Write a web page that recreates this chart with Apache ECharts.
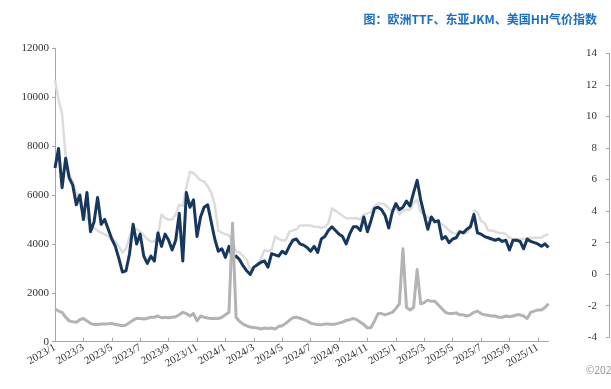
<!DOCTYPE html>
<html>
<head>
<meta charset="utf-8">
<script src="https://cdn.jsdelivr.net/npm/echarts@6/dist/echarts.min.js"></script>
<style>html,body{margin:0;padding:0;background:#fff}#c{width:611px;height:389px}</style>
</head>
<body>
<div id="c"></div>
<script>
const tickLabels = ['2023/1','2023/3','2023/5','2023/7','2023/9','2023/11','2024/1','2024/3','2024/5','2024/7','2024/9','2024/11','2025/1','2025/3','2025/5','2025/7','2025/9','2025/11'];
const seriesNames = ['欧洲TTF', '东亚JKM', '美国HH'];
// weekly samples (4 per month) starting 2023/1
const ttf = [7100,7900,6300,7500,6700,6400,5600,6000,5000,6100,
4500,4900,5900,4800,5000,4600,4200,3900,3400,2850,
2900,3600,4800,4000,4400,3500,3200,3500,3300,4450,
3900,4400,4150,3750,4150,5250,3300,6100,5500,5800,
4300,5100,5500,5600,4900,4200,3700,3800,3450,3900,
3400,3500,3350,3100,2900,2750,3050,3150,3250,3300,
3050,3600,3550,3500,3700,3600,3900,4150,4200,4000,
3950,3850,3700,3900,3650,4200,4300,4550,4700,4550,
4400,4300,4000,4400,4700,4700,4550,5100,4500,4950,
5450,5500,5400,5150,4650,5300,5650,5400,5500,5750,
5550,6100,6600,5800,5200,4600,5100,4900,4950,4200,
4300,4050,4200,4250,4500,4450,4600,4700,5200,4450,
4400,4300,4250,4200,4150,4200,4100,4150,3750,4150,
4150,4100,3800,4200,4100,4050,4000,3900,4000,3850];
const jkm = [10700,9900,9300,7600,6800,6550,6100,5600,5300,5050,
4800,4650,4550,4450,4400,4300,4200,4100,3900,3650,
3800,4300,4700,4600,4500,4350,4200,4100,4100,4300,
5200,5050,5000,5000,5200,5600,5550,6300,6950,6900,
6750,6600,6550,6350,6100,5600,4550,4450,4400,4350,
4100,3700,3650,3500,3350,2950,3050,3150,3400,3750,
3700,3750,4300,4200,4150,4150,4500,4550,4600,4750,
4750,4750,4750,4700,4700,4650,4700,4850,5450,5350,
5250,5150,5050,5050,5050,5050,5000,5200,5250,5300,
5550,5650,5650,5600,5450,5350,5500,5200,5350,5400,
5400,5700,5800,5300,5200,5100,5000,4950,4900,4800,
4700,4550,4450,4400,4500,4450,4450,4650,5350,5300,
4950,4850,4550,4550,4500,4450,4450,4400,4250,4200,
4200,4200,4200,4200,4250,4250,4250,4250,4350,4400];
const hh = [1350,1250,1200,1000,850,820,800,900,950,850,
750,700,700,720,720,730,750,700,680,650,
680,780,880,960,950,930,960,1000,1000,1050,
980,1000,980,1000,1020,1100,1200,1150,1050,1150,
850,1050,1000,970,950,960,950,1000,1100,1200,
4850,1000,830,720,650,600,580,560,520,560,
540,560,520,620,650,750,870,980,1000,960,
900,850,760,720,700,690,720,720,700,720,
760,800,870,900,950,900,800,700,560,580,
850,1150,1150,1100,1150,1200,1350,1550,3800,1400,
1300,1400,2950,1550,1600,1700,1650,1650,1500,1350,
1200,1150,1150,1180,1100,1100,1050,1100,1200,1250,
1150,1100,1080,1050,1050,1000,1000,1050,1020,1050,
1100,1100,1050,950,1200,1250,1300,1300,1400,1550];

const categories = [];
for (let i = 0; i < ttf.length; i++) {
  const m = Math.floor(i / 4);
  const label = (i % 8 === 0) ? tickLabels[i / 8] : (2023 + Math.floor(m / 12)) + '/' + (m % 12 + 1);
  categories.push(label + ' w' + (i % 4 + 1));
}

const serif = "'Liberation Serif', 'Times New Roman', serif";
const axisGray = '#a6a6a6';
const chart = echarts.init(document.getElementById('c'));
chart.setOption({
  animation: false,
  backgroundColor: '#fff',
  title: {
    text: '图：欧洲TTF、东亚JKM、美国HH气价指数',
    right: 9, top: 8,
    textStyle: { color: '#1b6ec2', fontSize: 12, fontWeight: 'bold', fontFamily: "'Noto Sans CJK SC', sans-serif" }
  },
  graphic: [{
    type: 'text', left: 586, top: 366,
    style: { text: '©2025 Wind', fill: '#999', fontSize: 10, fontFamily: "'Noto Sans', sans-serif" }
  }],
  grid: [
    { left: 55, right: 62.5, top: 48.3, bottom: 47.3, outerBoundsMode: 'none', containLabel: false },
    { left: 520, right: 2, top: 53.3, bottom: 51.7, outerBoundsMode: 'none', containLabel: false }
  ],
  xAxis: [{
    type: 'category', gridIndex: 0, data: categories, boundaryGap: false,
    axisLine: { lineStyle: { color: axisGray, width: 1 } },
    axisTick: { inside: true, length: 4, interval: (i) => i % 8 === 0, lineStyle: { color: axisGray } },
    axisLabel: {
      interval: (i) => i % 8 === 0, rotate: 30, margin: 5,
      formatter: (v) => v.split(' ')[0],
      color: '#333', fontSize: 11, fontFamily: serif
    },
    splitLine: { show: false }
  }, {
    type: 'value', gridIndex: 1, show: false, min: 0, max: 1
  }],
  yAxis: [{
    type: 'value', gridIndex: 0, min: 0, max: 12000, interval: 2000,
    axisLine: { show: true, lineStyle: { color: axisGray } },
    axisTick: { show: true, length: 3, lineStyle: { color: axisGray } },
    axisLabel: { color: '#333', fontSize: 11, fontFamily: serif, margin: 6, formatter: (v) => String(v) },
    splitLine: { show: false }
  }, {
    type: 'value', gridIndex: 1, position: 'right', min: -4, max: 14, interval: 2,
    axisLine: { show: true, onZero: false, lineStyle: { color: axisGray } },
    axisTick: { show: true, inside: true, length: 3, lineStyle: { color: axisGray } },
    axisLabel: { inside: true, margin: 12, color: '#333', fontSize: 11, fontFamily: serif, formatter: (v) => String(v) },
    splitLine: { show: false }
  }],
  series: [{
    name: seriesNames[1], type: 'line', data: jkm, showSymbol: false, symbol: 'none',
    lineStyle: { color: '#dcdcdc', width: 2.5, join: 'round' }, z: 2
  }, {
    name: seriesNames[0], type: 'line', data: ttf, showSymbol: false, symbol: 'none',
    lineStyle: { color: '#17375e', width: 3, join: 'round' }, z: 3
  }, {
    name: seriesNames[2], type: 'line', data: hh, showSymbol: false, symbol: 'none',
    lineStyle: { color: '#b3b3b3', width: 3, join: 'round' }, z: 4
  }]
});
</script>
</body>
</html>
